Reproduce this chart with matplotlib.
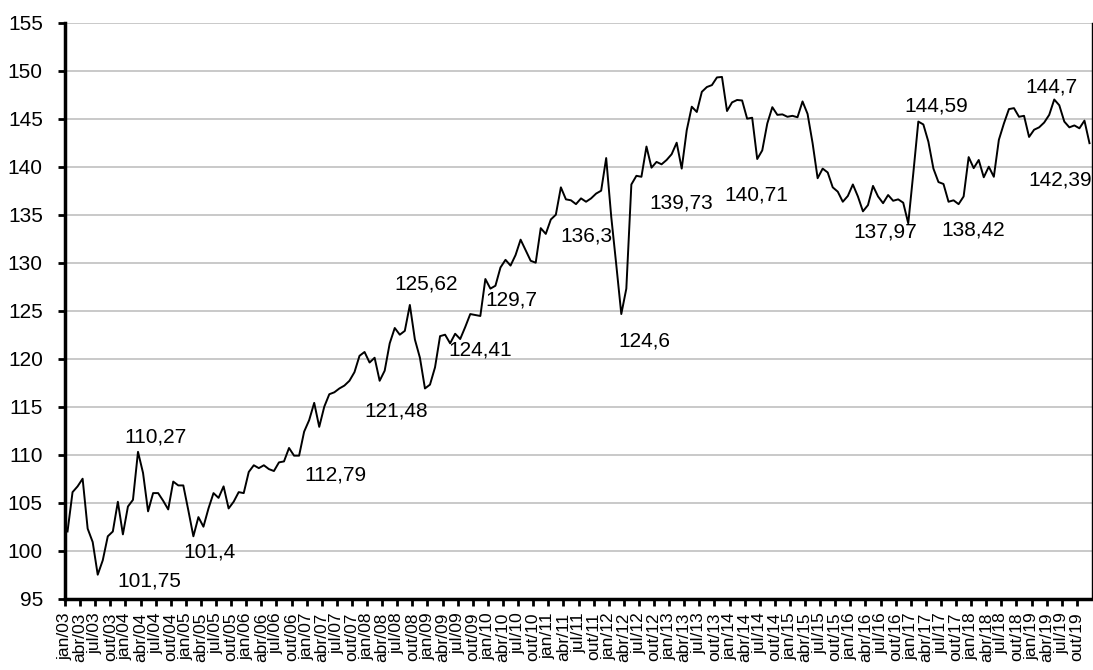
import numpy as np
import matplotlib
matplotlib.use("Agg")
import matplotlib.pyplot as plt

plt.rcParams['font.family'] = ['Liberation Sans', 'DejaVu Sans']

# ---- data -------------------------------------------------------------
month_names = ['jan', 'abr', 'jul', 'out']
years = list(range(3, 20))
tick_labels = [f"{m}/{y:02d}" for y in years for m in month_names]

values = [
    102.0, 106.1, 106.7, 107.5, 102.3, 100.9, 97.5, 99.0, 101.5, 102.0, 105.1, 101.7,
    104.6, 105.3, 110.3, 108.1, 104.1, 106.0, 106.0, 105.2, 104.3, 107.2, 106.8, 106.8,
    104.2, 101.5, 103.5, 102.5, 104.4, 106.0, 105.5, 106.7, 104.4, 105.1, 106.1, 106.0,
    108.2, 108.9, 108.6, 108.9, 108.5, 108.3, 109.2, 109.3, 110.7, 109.9, 109.9, 112.4,
    113.6, 115.4, 112.9, 115.0, 116.3, 116.5, 116.9, 117.2, 117.7, 118.6, 120.3, 120.7,
    119.6, 120.1, 117.7, 118.75, 121.6, 123.2, 122.5, 122.9, 125.6, 122.0, 120.1, 116.9,
    117.3, 119.1, 122.35, 122.5, 121.6, 122.6, 122.05, 123.3, 124.65, 124.55, 124.45, 128.3,
    127.3, 127.6, 129.5, 130.3, 129.7, 130.8, 132.4, 131.3, 130.2, 130.0, 133.6, 133.0,
    134.5, 135.0, 137.85, 136.6, 136.5, 136.1, 136.7, 136.35, 136.7, 137.2, 137.5, 140.9,
    134.8, 129.8, 124.65, 127.3, 138.15, 139.05, 138.95, 142.1, 139.9, 140.5, 140.25, 140.7,
    141.3, 142.5, 139.8, 143.8, 146.25, 145.7, 147.8, 148.3, 148.5, 149.3, 149.35, 145.8,
    146.7, 146.95, 146.9, 145.0, 145.1, 140.8, 141.7, 144.5, 146.2, 145.4, 145.45, 145.2,
    145.3, 145.15, 146.8, 145.5, 142.45, 138.8, 139.8, 139.4, 137.85, 137.4, 136.35, 136.95,
    138.15, 136.9, 135.35, 136.0, 138.0, 136.9, 136.2, 137.05, 136.45, 136.6, 136.25, 134.1,
    139.3, 144.7, 144.4, 142.6, 139.8, 138.4, 138.2, 136.35, 136.5, 136.1, 136.9, 141.0,
    139.85, 140.7, 138.9, 140.0, 138.95, 142.8, 144.5, 146.0, 146.1, 145.2, 145.3, 143.1,
    143.85, 144.1, 144.6, 145.4, 147.0, 146.4, 144.7, 144.1, 144.3, 144.0, 144.8, 142.45,
]

annot_texts = ['101,75', '110,27', '101,4', '112,79', '121,48', '125,62', '124,41', '129,7',
               '136,3', '124,6', '139,73', '140,71', '137,97', '144,59', '138,42', '144,7',
               '142,39']
annot_x = [16.2, 17.4, 28.3, 53.3, 65.2, 71.3, 82.0, 88.2,
           103.1, 114.6, 121.9, 136.8, 162.4, 172.5, 179.9, 195.5, 197.1]
annot_y = [96.31, 111.22, 99.34, 107.36, 113.93, 127.18, 120.36, 125.49,
           132.19, 121.30, 135.67, 136.53, 132.67, 145.70, 132.88, 147.78, 137.99]

# ---- figure -----------------------------------------------------------
W, H = 1093, 670
fig = plt.figure(figsize=(W / 100, H / 100), dpi=100)
left, right, top, bottom = 65, 1092, 22.7, 598.7
ax = fig.add_axes([left / W, (H - bottom) / H, (right - left) / W, (bottom - top) / H])

x = np.arange(len(values))
ax.plot(x, values, color='black', lw=1.4, zorder=3)

ax.set_xlim(-0.5, len(values) - 0.5)
ax.set_ylim(95, 155)
ax.set_yticks(np.arange(95, 156, 5))
ax.yaxis.grid(True, color='#c0c0c0', lw=1.2)
ax.set_axisbelow(True)

ax.set_xticks(np.arange(0, len(values), 3) - 0.5)
ax.set_xticklabels(tick_labels, rotation=90, fontsize=12.5)

ax.tick_params(axis='x', direction='out', length=5, width=2, pad=5, colors='black')
ax.tick_params(axis='y', direction='out', length=5, width=2, pad=11, labelsize=15, colors='black')

for s in ['left', 'bottom']:
    ax.spines[s].set_linewidth(2.5)
    ax.spines[s].set_color('black')
ax.spines['top'].set_visible(False)
ax.spines['right'].set_linewidth(1)
ax.spines['right'].set_color('black')

for t, xx, yy in zip(annot_texts, annot_x, annot_y):
    ax.text(xx, yy, t, ha='center', va='baseline', fontsize=15, color='black', zorder=4)

fig.savefig('out.png', dpi=100)
